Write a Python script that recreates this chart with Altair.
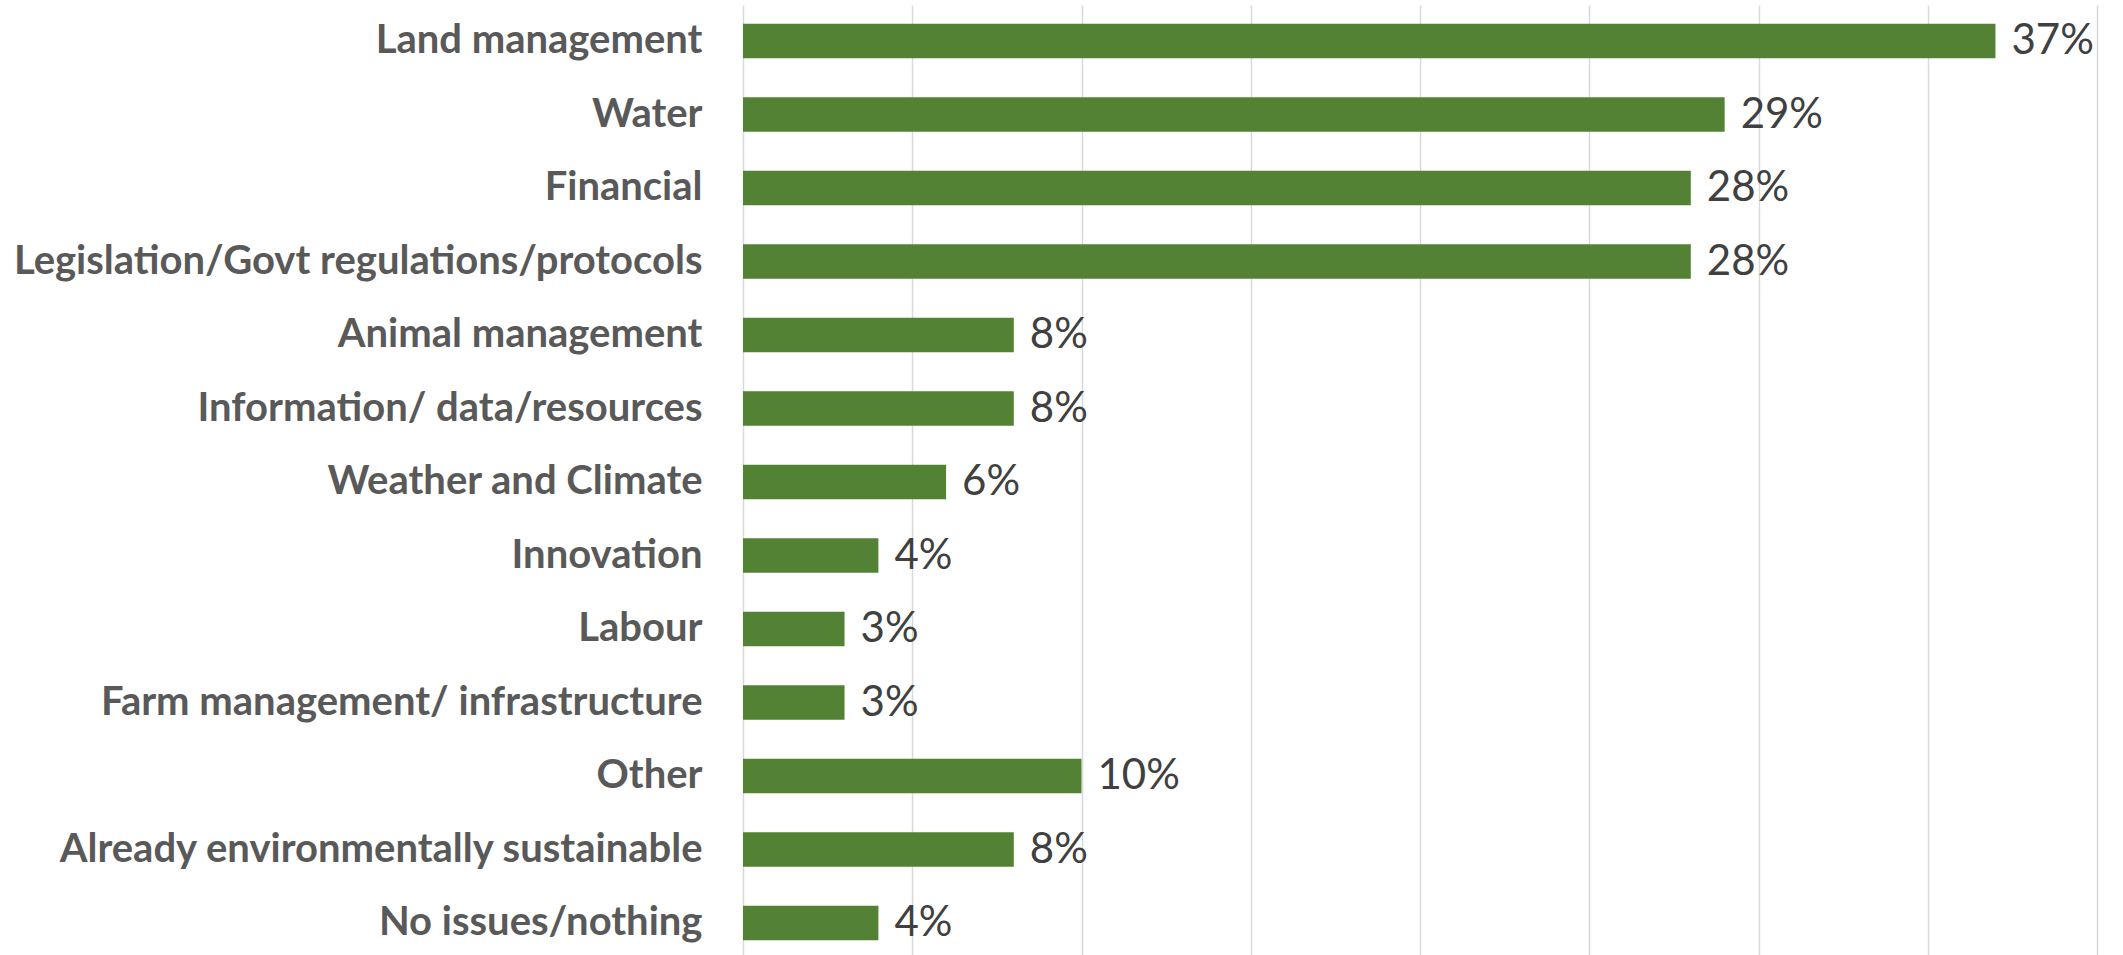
import altair as alt
import pandas as pd

categories = [
    "Land management",
    "Water",
    "Financial",
    "Legislation/Govt regulations/protocols",
    "Animal management",
    "Information/ data/resources",
    "Weather and Climate",
    "Innovation",
    "Labour",
    "Farm management/ infrastructure",
    "Other",
    "Already environmentally sustainable",
    "No issues/nothing",
]
values = [37, 29, 28, 28, 8, 8, 6, 4, 3, 3, 10, 8, 4]

df = pd.DataFrame({"category": categories, "value": values})
df["label"] = df["value"].astype(str) + "%"

y_enc = alt.Y(
    "category:N",
    sort=categories,
    scale=alt.Scale(paddingInner=0.53, paddingOuter=0.2276, align=0.56),
    axis=alt.Axis(
        title=None,
        domain=False,
        ticks=False,
        grid=False,
        labelFont="Lato",
        labelFontWeight="bold",
        labelFontSize=40,
        labelColor="#595959",
        labelPadding=41,
        labelLimit=900,
    ),
)

x_enc = alt.X(
    "value:Q",
    scale=alt.Scale(domain=[0, 40], nice=False),
    axis=alt.Axis(
        title=None,
        values=[0, 5, 10, 15, 20, 25, 30, 35, 40],
        labels=False,
        ticks=False,
        domain=False,
        grid=True,
        gridColor="#d9d9d9",
        gridWidth=1.5,
    ),
)

bars = alt.Chart(df).mark_bar(color="#548235").encode(x=x_enc, y=y_enc)

text = alt.Chart(df).mark_text(
    align="left",
    baseline="middle",
    dx=16,
    font="Lato",
    fontSize=42,
    color="#404040",
).encode(x="value:Q", y=alt.Y("category:N", sort=categories), text="label:N")

chart = (
    alt.layer(bars, text)
    .properties(
        width=1354,
        height=950,
        autosize=alt.AutoSizeParams(type="none"),
        padding={"left": 743, "top": 5, "right": 26, "bottom": 0},
        background="white",
    )
    .configure_view(stroke=None)
)

chart.save("out.html", embed_options={"renderer": "svg", "actions": False})
